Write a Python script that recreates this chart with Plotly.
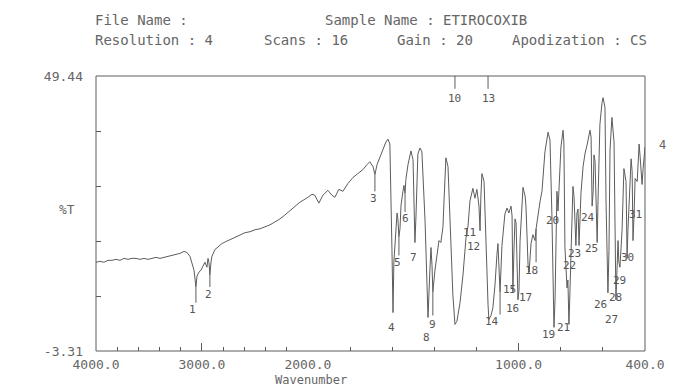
import plotly.graph_objects as go

# Transmittance trace, 4000-2000 cm-1 (compressed scale)
wn_high = [4000, 3962, 3925, 3887, 3849, 3811, 3774, 3736, 3698, 3660, 3623, 3585,
           3547, 3509, 3472, 3434, 3396, 3358, 3321, 3283, 3245, 3208, 3170, 3142,
           3113, 3094, 3075, 3057, 3047, 3028, 3009, 2991, 2972, 2953, 2943, 2934,
           2925, 2915, 2906, 2877, 2849, 2811, 2774, 2736, 2689, 2642, 2594, 2547,
           2500, 2453, 2406, 2358, 2311, 2264, 2217, 2170, 2123, 2075, 2028, 2000]
t_high = [13.71, 13.89, 13.71, 14.08, 14.08, 14.27, 14.08, 14.46, 14.27, 14.46, 14.46, 14.27,
          14.46, 14.27, 14.46, 14.65, 14.46, 14.65, 14.84, 15.03, 15.22, 15.41, 15.79, 15.60,
          14.84, 13.71, 12.19, 9.00, 11.06, 11.82, 12.19, 12.95, 13.71, 12.76, 14.46, 13.71,
          11.25, 13.71, 14.84, 16.16, 16.73, 17.30, 17.68, 18.05, 18.43, 18.81, 19.38, 19.57,
          19.95, 20.13, 20.51, 20.89, 21.46, 22.03, 22.78, 23.54, 24.29, 25.24, 25.81, 26.18]

# Transmittance trace, 2000-400 cm-1 (expanded scale)
wn_low = [2000, 1981, 1967, 1948, 1929, 1905, 1886, 1872, 1853, 1834,
          1810, 1786, 1763, 1739, 1720, 1706, 1691, 1682, 1672, 1658,
          1644, 1630, 1620, 1611, 1601, 1596, 1592, 1582, 1577, 1573,
          1568, 1563, 1558, 1549, 1544, 1539, 1535, 1525, 1511, 1501,
          1497, 1492, 1487, 1478, 1468, 1459, 1444, 1430, 1421, 1416,
          1411, 1407, 1397, 1388, 1378, 1369, 1359, 1354, 1345, 1335,
          1321, 1312, 1302, 1293, 1278, 1264, 1250, 1245, 1240, 1231,
          1217, 1207, 1198, 1188, 1183, 1179, 1174, 1164, 1155, 1145,
          1141, 1131, 1122, 1112, 1103, 1098, 1088, 1084, 1079, 1065,
          1055, 1046, 1036, 1031, 1027, 1022, 1017, 1012, 1003, 998,
          993, 979, 969, 965, 955, 950, 941, 932, 922, 917,
          908, 898, 889, 875, 860, 851, 842, 832, 827, 823,
          818, 813, 808, 799, 789, 785, 780, 770, 766, 761,
          756, 751, 742, 737, 728, 723, 718, 713, 704, 694,
          685, 675, 661, 656, 651, 646, 642, 637, 627, 623,
          614, 604, 599, 590, 585, 576, 571, 566, 557, 547,
          542, 538, 533, 528, 524, 519, 509, 500, 490, 485,
          481, 476, 466, 461, 457, 452, 447, 437, 428, 423,
          414, 409, 400]
t_low = [26.18, 26.75, 26.56, 25.05, 26.56, 27.51, 26.56, 26.18, 27.70, 27.32,
         28.83, 29.97, 30.72, 31.48, 32.42, 32.99, 32.05, 30.53, 32.42, 33.75,
         35.26, 36.77, 37.34, 36.39, 15.97, 4.06, 13.71, 21.65, 23.16, 22.03,
         18.62, 20.13, 24.67, 27.32, 28.45, 26.94, 29.59, 32.42, 35.07, 33.37,
         25.43, 17.49, 22.59, 34.50, 35.64, 34.88, 21.65, 3.12, 12.19, 16.54,
         13.14, 8.03, 12.19, 15.03, 17.87, 17.49, 20.51, 25.43, 33.75, 32.05,
         15.03, 7.47, 1.79, 2.36, 5.95, 11.25, 18.24, 19.38, 20.70, 25.43,
         27.89, 26.00, 27.70, 24.48, 19.76, 26.37, 30.72, 29.21, 15.97, 5.58,
         2.74, 3.50, 5.01, 9.36, 15.03, 17.30, 8.03, 13.14, 16.92, 22.97,
         24.11, 23.16, 24.48, 22.59, 8.03, 15.97, 22.03, 21.27, 6.52, 8.41,
         17.87, 28.08, 26.37, 24.48, 13.14, 11.82, 17.30, 19.00, 17.87, 20.13,
         22.97, 25.43, 27.32, 34.88, 38.66, 37.15, 22.97, 1.23, 6.52, 20.70,
         27.32, 23.54, 27.32, 35.83, 39.04, 36.77, 16.54, 8.79, 10.30, 1.79,
         8.41, 16.54, 28.26, 26.37, 16.92, 23.16, 23.92, 16.92, 26.94, 32.05,
         34.50, 36.21, 39.04, 37.72, 24.48, 27.32, 34.31, 32.99, 17.49, 25.43,
         40.18, 44.34, 45.28, 43.39, 25.43, 7.85, 15.97, 35.26, 41.50, 36.77,
         19.76, 6.52, 12.19, 17.87, 13.71, 12.76, 19.76, 31.67, 29.21, 14.46,
         19.76, 24.48, 33.56, 31.10, 17.87, 22.59, 29.78, 29.21, 36.39, 33.94,
         28.64, 31.67, 35.83]

# Peak numbering: label text and where each number sits
peak_ids = [str(i) for i in range(1, 32)]
peak_label_wn = [3085, 2934, 1687, 1601, 1573, 1539, 1501, 1435, 1411, 1302,
                 1231, 1212, 1145, 1126, 1041, 1027, 969, 941, 860, 837,
                 785, 756, 737, 670, 656, 609, 561, 542, 519, 485, 443]
peak_label_t = [4.63, 7.47, 26.00, 1.23, 13.71, 22.03, 14.65, -0.67, 1.79, 45.09,
                19.38, 16.73, 45.09, 2.36, 8.41, 4.82, 6.90, 12.19, -0.10, 21.65,
                1.23, 13.14, 15.41, 22.22, 16.35, 5.58, 2.74, 6.90, 10.30, 14.65, 22.97]

# Leader ticks joining a peak to its number
leader_wn = [3057, 2925, 1682, 1302, 1145, 1568, 1539, 1407, 1088, 917]
leader_from = [9.00, 11.25, 30.53, 49.44, 49.44, 18.62, 26.94, 8.03, 8.03, 20.13]
leader_to = [5.95, 8.98, 27.32, 46.98, 46.98, 15.03, 23.35, 3.50, 3.69, 13.71]

y_ticks = [-3.31, 7.24, 17.79, 28.34, 38.89, 49.44]
y_ticktext = ["-3.31", "", "", "", "", "49.44"]

LINE = "#5c5c5c"
TEXT = "#666666"
MONO = "DejaVu Sans Mono, Liberation Mono, monospace"
SPLIT = 0.386  # paper position of the 2000 cm-1 scale change

fig = go.Figure()
fig.add_trace(go.Scatter(x=wn_high, y=t_high, xaxis="x", yaxis="y", mode="lines",
                         line=dict(color=LINE, width=1), hoverinfo="skip"))
fig.add_trace(go.Scatter(x=wn_low, y=t_low, xaxis="x2", yaxis="y", mode="lines",
                         line=dict(color=LINE, width=1), hoverinfo="skip"))


def leaders(on_high):
    xs, ys = [], []
    for w, a, b in zip(leader_wn, leader_from, leader_to):
        if (w > 2000) == on_high:
            xs += [w, w, None]
            ys += [a, b, None]
    return xs, ys


for on_high, xa in ((True, "x"), (False, "x2")):
    lx, ly = leaders(on_high)
    if lx:
        fig.add_trace(go.Scatter(x=lx, y=ly, xaxis=xa, yaxis="y", mode="lines",
                                 line=dict(color=LINE, width=1), hoverinfo="skip"))

annotations = []
for pid, w, t in zip(peak_ids, peak_label_wn, peak_label_t):
    annotations.append(dict(x=w, y=t, xref="x" if w > 2000 else "x2", yref="y",
                            text=pid, showarrow=False, xanchor="center", yanchor="middle",
                            font=dict(family=MONO, size=11, color="#555555")))

header = [
    ("File Name :", -0.0055, 1.2036),
    ("Sample Name : ETIROCOXIB", 0.4135, 1.2036),
    ("Resolution : 4", -0.0055, 1.1309),
    ("Scans : 16", 0.3024, 1.1309),
    ("Gain : 20", 0.5446, 1.1309),
    ("Apodization : CS", 0.754, 1.1309),
]
for txt, hx, hy in header:
    annotations.append(dict(x=hx, y=hy, xref="paper", yref="paper", text=txt,
                            showarrow=False, xanchor="left", yanchor="middle",
                            font=dict(family=MONO, size=14, color=TEXT)))

annotations += [
    dict(x=-0.053, y=0.513, xref="paper", yref="paper", text="%T", showarrow=False,
         xanchor="center", yanchor="middle",
         font=dict(family=MONO, size=13, color=TEXT)),
    dict(x=0.3916, y=-0.104, xref="paper", yref="paper", text="Wavenumber",
         showarrow=False, xanchor="center", yanchor="middle",
         font=dict(family=MONO, size=12, color=TEXT)),
    dict(x=1.031, y=0.749, xref="paper", yref="paper", text="4", showarrow=False,
         xanchor="center", yanchor="middle",
         font=dict(family=MONO, size=12, color=TEXT)),
]

tick_font = dict(family=MONO, size=13, color=TEXT)
fig.update_layout(
    width=678, height=387,
    margin=dict(l=96, r=33, t=76, b=36),
    paper_bgcolor="white", plot_bgcolor="white",
    showlegend=False,
    xaxis=dict(domain=[0, SPLIT], range=[4000, 2000], anchor="y",
               tickmode="array", tickvals=[4000, 3000], ticktext=["4000.0", "3000.0"],
               ticks="inside", ticklen=8, tickcolor=LINE, tickfont=tick_font,
               ticklabelstandoff=4,
               minor=dict(tickmode="array",
                          tickvals=[3800, 3600, 3400, 3200, 2800, 2600, 2400, 2200],
                          ticks="inside", ticklen=4, tickcolor=LINE),
               showgrid=False, zeroline=False, showline=False, fixedrange=True),
    xaxis2=dict(domain=[SPLIT, 1], range=[2000, 400], anchor="y",
                tickmode="array", tickvals=[2000, 1000, 400],
                ticktext=["2000.0", "1000.0", "400.0"],
                ticks="inside", ticklen=8, tickcolor=LINE, tickfont=tick_font,
                ticklabelstandoff=4,
                minor=dict(tickmode="array",
                           tickvals=[1800, 1600, 1400, 1200, 800, 600],
                           ticks="inside", ticklen=4, tickcolor=LINE),
                showgrid=False, zeroline=False, showline=False, fixedrange=True),
    yaxis=dict(domain=[0, 1], range=[-3.31, 49.44], anchor="x",
               tickmode="array", tickvals=y_ticks, ticktext=y_ticktext,
               ticks="inside", ticklen=5, tickcolor=LINE, tickfont=tick_font,
               ticklabelstandoff=12,
               showgrid=False, zeroline=False, showline=False, fixedrange=True),
    shapes=[dict(type="rect", xref="paper", yref="paper", x0=0, y0=0, x1=1, y1=1,
                 line=dict(color=LINE, width=1))],
    annotations=annotations,
)

fig.write_html("out.html")
